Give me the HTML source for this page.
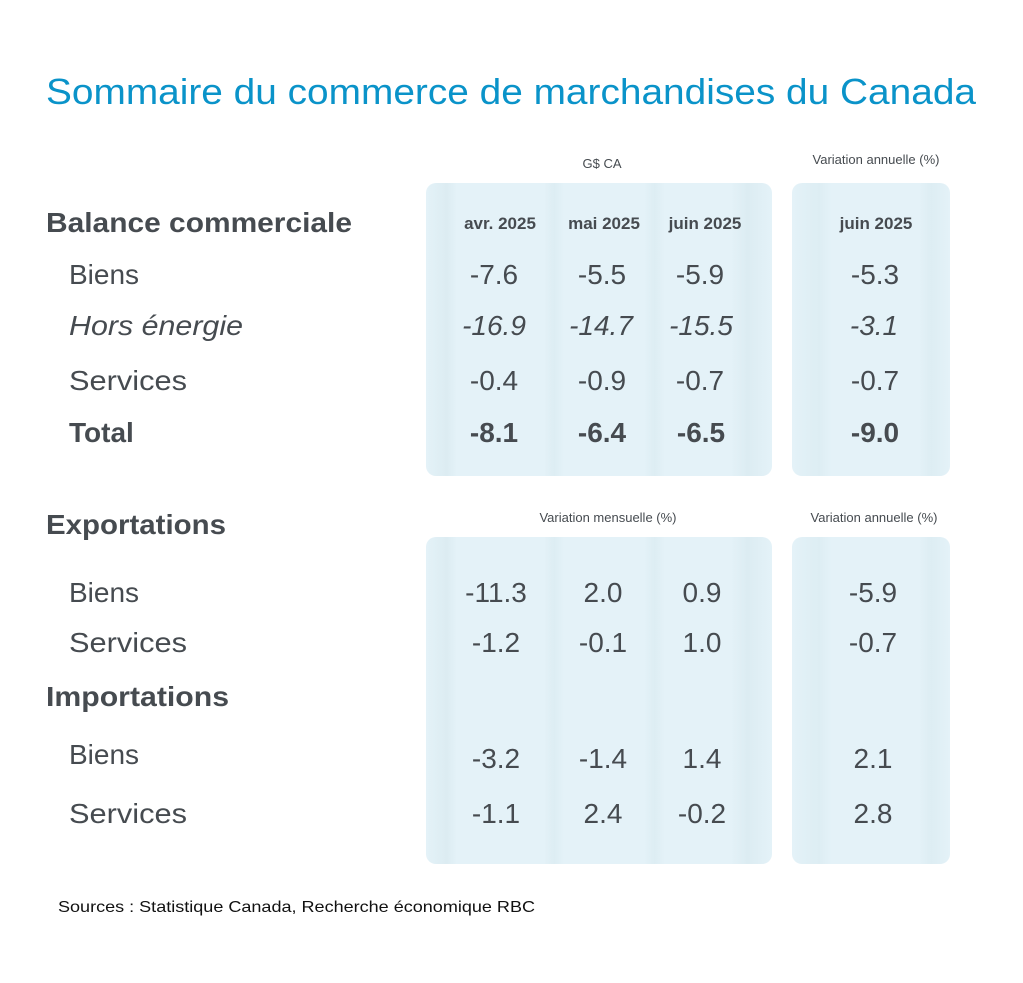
<!DOCTYPE html>
<html><head><meta charset="utf-8"><style>
html,body{margin:0;padding:0;background:#fff}
svg{display:block}
text{font-family:"Liberation Sans",sans-serif;fill:#464b50}
</style></head><body>
<svg width="1023" height="983" viewBox="0 0 1023 983" xmlns="http://www.w3.org/2000/svg">
<defs>
<linearGradient id="g1" x1="0" x2="1" y1="0" y2="0">
<stop offset="0" stop-color="#e4f2f8"/>
<stop offset="0.06" stop-color="#dcecf2"/>
<stop offset="0.09" stop-color="#e4f2f8"/>
<stop offset="0.34" stop-color="#e4f2f8"/>
<stop offset="0.37" stop-color="#ddedf3"/>
<stop offset="0.40" stop-color="#e4f2f8"/>
<stop offset="0.63" stop-color="#e4f2f8"/>
<stop offset="0.66" stop-color="#ddedf3"/>
<stop offset="0.69" stop-color="#e4f2f8"/>
<stop offset="0.88" stop-color="#e4f2f8"/>
<stop offset="0.93" stop-color="#dcecf2"/>
<stop offset="1" stop-color="#e4f2f8"/>
</linearGradient>
<linearGradient id="g2" x1="0" x2="1" y1="0" y2="0">
<stop offset="0" stop-color="#e4f2f8"/>
<stop offset="0.17" stop-color="#ddedf3"/>
<stop offset="0.25" stop-color="#e4f2f8"/>
<stop offset="0.80" stop-color="#e4f2f8"/>
<stop offset="0.88" stop-color="#ddedf3"/>
<stop offset="1" stop-color="#e4f2f8"/>
</linearGradient>
</defs>
<text x="46" y="104" font-size="36" style="fill:#0a93c9" textLength="930" lengthAdjust="spacingAndGlyphs">Sommaire du commerce de marchandises du Canada</text>

<rect x="426" y="183" width="346" height="293" rx="10" fill="url(#g1)"/>
<rect x="792" y="183" width="158" height="293" rx="10" fill="url(#g2)"/>
<rect x="426" y="537" width="346" height="327" rx="10" fill="url(#g1)"/>
<rect x="792" y="537" width="158" height="327" rx="10" fill="url(#g2)"/>

<g font-size="13" text-anchor="middle">
<text x="602" y="168">G$ CA</text>
<text x="876" y="164">Variation annuelle (%)</text>
<text x="608" y="522">Variation mensuelle (%)</text>
<text x="874" y="522">Variation annuelle (%)</text>
</g>

<g font-size="17" font-weight="bold" text-anchor="middle">
<text x="500" y="229">avr. 2025</text>
<text x="604" y="229">mai 2025</text>
<text x="705" y="229">juin 2025</text>
<text x="876" y="229">juin 2025</text>
</g>

<g font-size="28">
<text x="46" y="232" font-weight="bold" textLength="306" lengthAdjust="spacingAndGlyphs">Balance commerciale</text>
<text x="69" y="284">Biens</text>
<text x="69" y="335" font-style="italic" textLength="174" lengthAdjust="spacingAndGlyphs">Hors énergie</text>
<text x="69" y="390" textLength="118" lengthAdjust="spacingAndGlyphs">Services</text>
<text x="69" y="442" font-weight="bold">Total</text>
<text x="46" y="534" font-weight="bold" textLength="180" lengthAdjust="spacingAndGlyphs">Exportations</text>
<text x="69" y="602">Biens</text>
<text x="69" y="652" textLength="118" lengthAdjust="spacingAndGlyphs">Services</text>
<text x="46" y="706" font-weight="bold" textLength="183" lengthAdjust="spacingAndGlyphs">Importations</text>
<text x="69" y="764">Biens</text>
<text x="69" y="823" textLength="118" lengthAdjust="spacingAndGlyphs">Services</text>
</g>

<g font-size="28" text-anchor="middle">
<text x="494" y="284">-7.6</text><text x="602" y="284">-5.5</text><text x="700" y="284">-5.9</text><text x="875" y="284">-5.3</text>
<g font-style="italic">
<text x="494" y="335">-16.9</text><text x="601" y="335">-14.7</text><text x="701" y="335">-15.5</text><text x="874" y="335">-3.1</text>
</g>
<text x="494" y="390">-0.4</text><text x="602" y="390">-0.9</text><text x="700" y="390">-0.7</text><text x="875" y="390">-0.7</text>
<g font-weight="bold">
<text x="494" y="442">-8.1</text><text x="602" y="442">-6.4</text><text x="701" y="442">-6.5</text><text x="875" y="442">-9.0</text>
</g>
<text x="496" y="602">-11.3</text><text x="603" y="602">2.0</text><text x="702" y="602">0.9</text><text x="873" y="602">-5.9</text>
<text x="496" y="652">-1.2</text><text x="603" y="652">-0.1</text><text x="702" y="652">1.0</text><text x="873" y="652">-0.7</text>
<text x="496" y="768">-3.2</text><text x="603" y="768">-1.4</text><text x="702" y="768">1.4</text><text x="873" y="768">2.1</text>
<text x="496" y="823">-1.1</text><text x="603" y="823">2.4</text><text x="702" y="823">-0.2</text><text x="873" y="823">2.8</text>
</g>

<text x="58" y="912" font-size="16" style="fill:#111" textLength="477" lengthAdjust="spacingAndGlyphs">Sources : Statistique Canada, Recherche économique RBC</text>
</svg>
</body></html>
